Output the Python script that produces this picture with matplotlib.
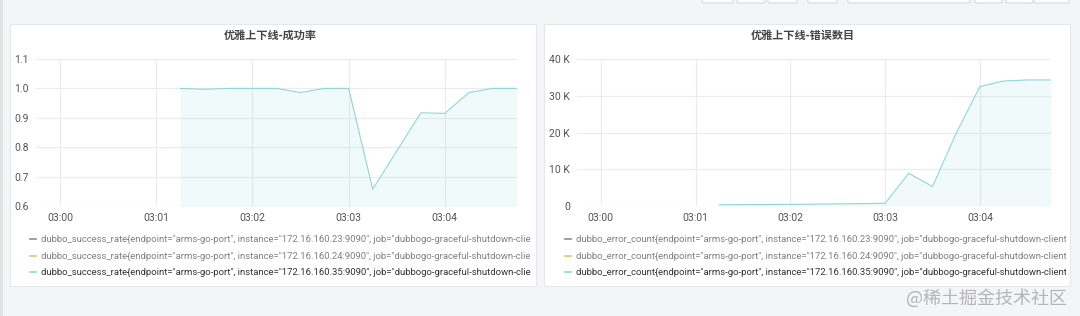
import matplotlib
matplotlib.use("Agg")
import matplotlib.pyplot as plt
import matplotlib.dates as mdates
from matplotlib.patches import Rectangle, FancyBboxPatch
from matplotlib.lines import Line2D
from matplotlib.transforms import Bbox
import pandas as pd

# ---------------- data ----------------
time_labels = ["03:01:15", "03:01:30", "03:01:45", "03:02:00", "03:02:15",
               "03:02:30", "03:02:45", "03:03:00", "03:03:15", "03:03:30",
               "03:03:45", "03:04:00", "03:04:15", "03:04:30", "03:04:45"]
success_rate = [1.0, 0.997, 1.0, 1.0, 1.0, 0.986, 1.0, 1.0, 0.657, 0.787,
                0.917, 0.915, 0.986, 1.0, 1.0]
error_count = [350, 380, 410, 450, 500, 580, 650, 720, 8900, 5300,
               19800, 32500, 34000, 34300, 34300]
x_ticks = ["03:00", "03:01", "03:02", "03:03", "03:04"]
x_range = ["02:59:45", "03:04:45"]
rate_ticks = [0.6, 0.7, 0.8, 0.9, 1.0, 1.1]
count_ticks = [0, 10000, 20000, 30000, 40000]
count_tick_labels = ["0", "10 K", "20 K", "30 K", "40 K"]
titles = ["优雅上下线-成功率", "优雅上下线-错误数目"]
instances = ["172.16.160.23:9090", "172.16.160.24:9090", "172.16.160.35:9090"]
metric_names = ["dubbo_success_rate", "dubbo_error_count"]
series_colors = ["#8c8c8c", "#e8c46a", "#8fd5d8"]
watermark = "@稀土掘金技术社区"

DAY = "2021-01-01 "
times = pd.to_datetime([DAY + t for t in time_labels])
xlim = pd.to_datetime([DAY + t for t in x_range])
xtick_pos = pd.to_datetime([DAY + t for t in x_ticks])

W, H = 1080, 316
fig = plt.figure(figsize=(W / 100, H / 100), dpi=100)
fig.patch.set_facecolor("#f4f5f7")

def fx(px):
    return px / W

def fy(py):
    return 1 - py / H

CJK = ["Noto Sans CJK SC", "DejaVu Sans"]
LAT = ["Roboto", "DejaVu Sans"]

# left darker strip
fig.add_artist(Rectangle((0, 0), fx(3), 1, transform=fig.transFigure,
                         facecolor="#e2e3e5", edgecolor="none", zorder=-2))

# top toolbar buttons (cut off)
for x0, x1 in [(702, 733), (737, 765), (768, 797), (808, 837), (848, 970),
               (975, 1002), (1006, 1033), (1034, 1069)]:
    fig.add_artist(FancyBboxPatch((fx(x0), fy(3)), fx(x1 - x0), 10 / H,
                                  boxstyle="round,pad=0,rounding_size=0.003",
                                  transform=fig.transFigure, facecolor="white",
                                  edgecolor="#d8d8d8", linewidth=0.8, zorder=-2))

# cards
cards = [(10, 536), (544, 1070)]
for x0, x1 in cards:
    fig.add_artist(Rectangle((fx(x0), fy(286)), fx(x1 - x0), (286 - 24) / H,
                             transform=fig.transFigure, facecolor="white",
                             edgecolor="#e6e7ea", linewidth=0.8, zorder=-1))

axes_px = [(36, 517), (577, 1051)]
axs = []
for (x0, x1) in axes_px:
    ax = fig.add_axes([fx(x0), fy(206), fx(x1 - x0), (206 - 59) / H])
    ax.set_zorder(1)
    ax.set_facecolor("none")
    for s in ax.spines.values():
        s.set_visible(False)
    ax.set_xlim(xlim[0], xlim[1])
    ax.set_xticks(xtick_pos)
    ax.xaxis.set_major_formatter(mdates.DateFormatter("%H:%M"))
    ax.grid(True, color="#ebebeb", linewidth=0.8)
    ax.set_axisbelow(True)
    ax.tick_params(length=0, labelsize=7.5, labelcolor="#555555", pad=5)
    axs.append(ax)

line_c = series_colors[2]
fill_c = "#6ed0e0"
ax = axs[0]
ax.fill_between(times, success_rate, 0, color=fill_c, alpha=0.10, linewidth=0)
ax.plot(times, success_rate, color=line_c, linewidth=0.8)
ax.set_ylim(0.6, 1.1)
ax.set_yticks(rate_ticks)
ax.set_yticklabels([f"{v:.1f}" for v in rate_ticks])

ax = axs[1]
ax.fill_between(times, error_count, 0, color=fill_c, alpha=0.10, linewidth=0)
ax.plot(times, error_count, color=line_c, linewidth=0.8)
ax.set_ylim(0, 40000)
ax.set_yticks(count_ticks)
ax.set_yticklabels(count_tick_labels)

for ax in axs:
    for lab in ax.get_xticklabels() + ax.get_yticklabels():
        lab.set_fontfamily(LAT)

# titles
for cx, t in zip([270, 803], titles):
    fig.text(fx(cx), fy(35), t, ha="center", va="center", fontsize=8,
             fontweight="bold", color="#444444", family=CJK)

# legends
legend_rows = [239, 256, 272]
legend_cfg = [(30, 41, metric_names[0], 531), (565, 576, metric_names[1], 1066)]
text_colors = ["#808080", "#808080", "#333333"]
for (mx, tx, name, clipx) in legend_cfg:
    for row_y, inst, col, tcol in zip(legend_rows, instances, series_colors, text_colors):
        fig.add_artist(Line2D([fx(mx), fx(mx + 6)], [fy(row_y), fy(row_y)],
                              transform=fig.transFigure, color=col, linewidth=1.2))
        label = (f'{name}{{endpoint="arms-go-port", instance="{inst}", '
                 f'job="dubbogo-graceful-shutdown-client"}}')
        t = fig.text(fx(tx), fy(row_y), label, ha="left", va="center",
                     fontsize=6.8, color=tcol, family=LAT)
        t.set_clip_on(True)
        t.set_clip_box(Bbox.from_extents(tx - 2, 0, clipx, H))

# watermark
fig.text(fx(1067), fy(298), watermark, ha="right", va="center", fontsize=13,
         color="#b5b5b5", family=CJK)

fig.savefig("out.png", dpi=100, facecolor=fig.get_facecolor())
